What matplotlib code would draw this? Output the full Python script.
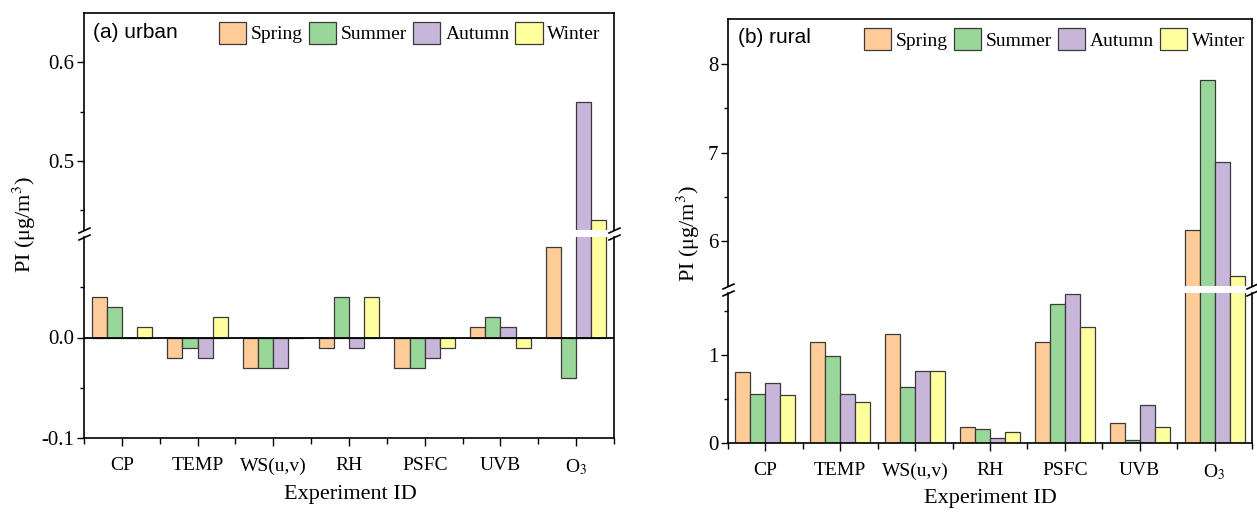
import matplotlib
matplotlib.use("Agg")
import matplotlib.pyplot as plt
from matplotlib.patches import Patch
from matplotlib.ticker import MultipleLocator, FormatStrFormatter, FixedLocator
import numpy as np

plt.rcParams["font.family"] = ["Liberation Serif", "DejaVu Serif"]
plt.rcParams["mathtext.fontset"] = "stix"

EXPERIMENTS = ["CP", "TEMP", "WS(u,v)", "RH", "PSFC", "UVB", "O$_3$"]
SEASONS = ["Spring", "Summer", "Autumn", "Winter"]
SEASON_COLORS = ["#FFCC99", "#99D69A", "#C7B6DA", "#FFFF9E"]

# urban PI per season (one value per experiment)
urban_spring = [0.04, -0.02, -0.03, -0.01, -0.03, 0.01, 0.09]
urban_summer = [0.03, -0.01, -0.03, 0.04, -0.03, 0.02, -0.04]
urban_autumn = [0.00, -0.02, -0.03, -0.01, -0.02, 0.01, 0.56]
urban_winter = [0.01, 0.02, 0.00, 0.04, -0.01, -0.01, 0.44]

# rural PI per season
rural_spring = [0.81, 1.14, 1.24, 0.18, 1.14, 0.23, 6.12]
rural_summer = [0.56, 0.99, 0.64, 0.16, 1.57, 0.03, 7.82]
rural_autumn = [0.68, 0.55, 0.82, 0.06, 1.69, 0.43, 6.89]
rural_winter = [0.54, 0.47, 0.82, 0.13, 1.31, 0.18, 5.60]

W, H = 1257, 512


def rect(x0, y0, x1, y1):
    # pixel box (top-left origin) -> figure fraction
    return [x0 / W, 1 - y1 / H, (x1 - x0) / W, (y1 - y0) / H]


def draw_panel(fig, box_low, box_up, series, ylim_low, ylim_up, low_ticks, up_ticks,
               low_minor, up_minor, fmt, tag, tag_pos, leg_pos, zero_line):
    ax_low = fig.add_axes(rect(*box_low))
    ax_up = fig.add_axes(rect(*box_up))
    x = np.arange(len(EXPERIMENTS))
    width = 0.2
    for i, vals in enumerate(series):
        for ax in (ax_low, ax_up):
            ax.bar(x + (i - 1.5) * width, vals, width, color=SEASON_COLORS[i],
                   edgecolor="#3a3a3a", linewidth=0.9, zorder=2)

    for ax in (ax_low, ax_up):
        ax.set_xlim(-0.5, len(EXPERIMENTS) - 0.5)
        for s in ax.spines.values():
            s.set_linewidth(1.2)
        ax.yaxis.set_major_formatter(FormatStrFormatter(fmt))
        ax.tick_params(axis="y", which="major", direction="out", length=5, width=1,
                       labelsize=15, pad=2)
        ax.tick_params(axis="y", which="minor", direction="out", length=3, width=1)

    ax_low.set_ylim(*ylim_low)
    ax_up.set_ylim(*ylim_up)
    ax_low.yaxis.set_major_locator(FixedLocator(low_ticks))
    ax_up.yaxis.set_major_locator(FixedLocator(up_ticks))
    ax_low.yaxis.set_minor_locator(FixedLocator(low_minor))
    ax_up.yaxis.set_minor_locator(FixedLocator(up_minor))

    ax_low.spines["top"].set_visible(False)
    ax_up.spines["bottom"].set_visible(False)
    ax_up.set_xticks([])
    ax_up.tick_params(axis="x", which="both", bottom=False, labelbottom=False)

    ax_low.set_xticks(x)
    ax_low.set_xticklabels(EXPERIMENTS)
    ax_low.set_xticks(np.arange(-0.5, len(EXPERIMENTS)), minor=True)
    ax_low.tick_params(axis="x", which="major", direction="out", length=6, width=1,
                       labelsize=14, pad=8)
    ax_low.tick_params(axis="x", which="minor", direction="out", length=4, width=1)

    if zero_line:
        ax_low.axhline(0, color="black", linewidth=1.3, zorder=3)

    # break marks on the spines
    kw = dict(marker=[(-1, -0.45), (1, 0.45)], markersize=9, linestyle="none",
              color="black", mec="black", mew=1.2, clip_on=False)
    ax_up.plot([0, 1], [0, 0], transform=ax_up.transAxes, **kw)
    ax_low.plot([0, 1], [1, 1], transform=ax_low.transAxes, **kw)

    ax_up.text(tag_pos[0], tag_pos[1], tag, transform=ax_up.transAxes, fontsize=15,
               family=["Liberation Sans", "DejaVu Sans"], va="center", ha="left")
    handles = [Patch(facecolor=c, edgecolor="#3a3a3a", linewidth=0.9, label=s)
               for c, s in zip(SEASON_COLORS, SEASONS)]
    ax_up.legend(handles=handles, ncol=4, loc="center right", bbox_to_anchor=leg_pos,
                 frameon=False, fontsize=14, handlelength=1.4, handleheight=1.35,
                 handletextpad=0.25, columnspacing=0.3, borderaxespad=0, borderpad=0)
    return ax_low, ax_up


fig = plt.figure(figsize=(W / 100, H / 100), dpi=100)

draw_panel(fig, (84, 237, 614, 438), (84, 13, 614, 230),
           [urban_spring, urban_summer, urban_autumn, urban_winter],
           (-0.1, 0.1), (0.43, 0.65), [-0.1, 0.0], [0.5, 0.6],
           [-0.05, 0.05], [0.45, 0.55], "%.1f",
           "(a) urban", (0.017, 0.908), (0.975, 0.908), True)

draw_panel(fig, (728, 293, 1252, 443), (728, 19, 1252, 286),
           [rural_spring, rural_summer, rural_autumn, rural_winter],
           (0, 1.70), (5.49, 8.51), [0, 1], [6, 7, 8],
           [0.5, 1.5], [6.5, 7.5], "%d",
           "(b) rural", (0.019, 0.929), (0.987, 0.925), False)

fig.text(24 / W, 1 - 225 / H, "PI (μg/m$^3$)", rotation=90, ha="center", va="center",
         fontsize=16)
fig.text(688 / W, 1 - 234 / H, "PI (μg/m$^3$)", rotation=90, ha="center", va="center",
         fontsize=16)
fig.text(350 / W, 1 - 494 / H, "Experiment ID", ha="center", va="center", fontsize=16)
fig.text(990 / W, 1 - 498 / H, "Experiment ID", ha="center", va="center", fontsize=16)

fig.savefig("out.png", dpi=100)
